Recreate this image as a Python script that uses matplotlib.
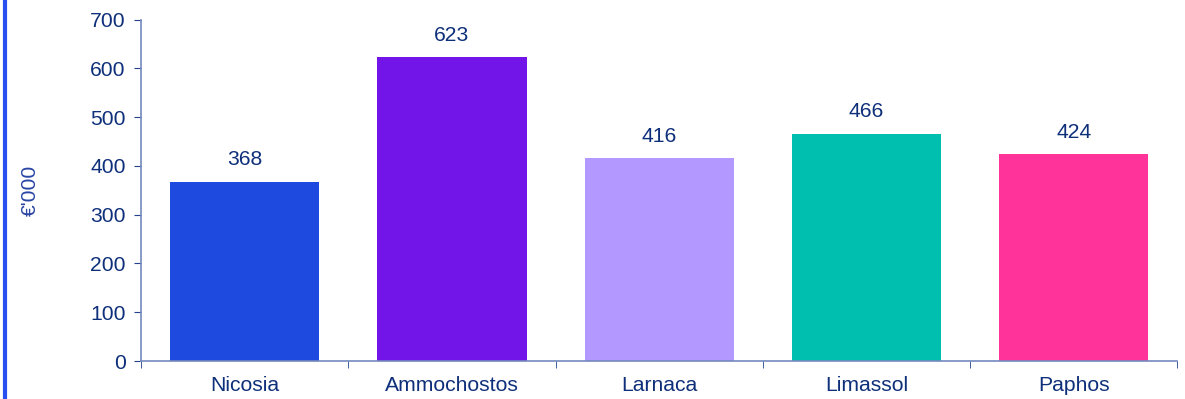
import matplotlib
matplotlib.use("Agg")
import matplotlib.pyplot as plt
from matplotlib.lines import Line2D

categories = ["Nicosia", "Ammochostos", "Larnaca", "Limassol", "Paphos"]
values = [368, 623, 416, 466, 424]
colors = ["#1f4ae0", "#7215e8", "#b399ff", "#00bfae", "#ff3399"]
yticks = [0, 100, 200, 300, 400, 500, 600, 700]

plt.rcParams['font.family'] = ['Liberation Sans', 'DejaVu Sans']
text_col = "#0e2f7a"
axis_col = "#7489bd"
tick_col = "#23408f"
fs = 15.2

fig = plt.figure(figsize=(11.85, 3.99), dpi=100)
ax = fig.add_axes([0.119, 0.0952, 0.8745, 0.8554])

x = list(range(len(categories)))
ax.bar(x, values, width=0.72, color=colors, zorder=2)
for xi, v in zip(x, values):
    ax.annotate(str(v), (xi, v), xytext=(0, 9), textcoords="offset points",
                ha="center", va="bottom", fontsize=fs, color=text_col)

ax.set_xlim(-0.5, len(categories) - 0.5)
ax.set_ylim(0, 700)
ax.set_yticks(yticks)
ax.set_yticklabels([str(t) for t in yticks], fontsize=fs, color=text_col)
ax.set_xticks(x)
ax.set_xticklabels(categories, fontsize=fs, color=text_col)
ax.set_xticks([i - 0.5 for i in range(len(categories) + 1)], minor=True)
ax.tick_params(axis="x", which="major", length=0, pad=11)
ax.tick_params(axis="x", which="minor", length=5, color=tick_col, direction="out")
ax.tick_params(axis="y", length=5, color=tick_col, direction="out", pad=6)
for s in ["top", "right"]:
    ax.spines[s].set_visible(False)
for s in ["left", "bottom"]:
    ax.spines[s].set_color(axis_col)
    ax.spines[s].set_linewidth(1.2)
    ax.spines[s].set_zorder(3)

ax.set_ylabel("€'000", fontsize=fs, color="#2a45a5", labelpad=36)

fig.add_artist(Line2D([0.0042, 0.0042], [0, 1], transform=fig.transFigure,
                      color="#2a4ff0", linewidth=3))

fig.savefig("out.png", dpi=100)
